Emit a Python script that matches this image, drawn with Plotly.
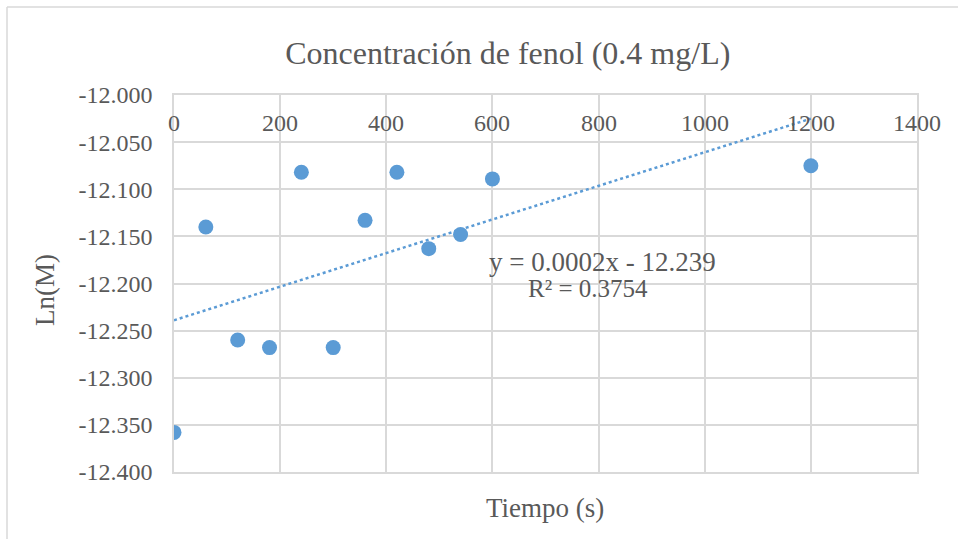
import numpy as np
import plotly.graph_objects as go

tiempo = [0, 60, 120, 180, 240, 300, 360, 420, 480, 540, 600, 1200]
ln_m = [-12.358, -12.140, -12.260, -12.268, -12.082, -12.268, -12.133,
        -12.082, -12.163, -12.148, -12.089, -12.075]
x_ticks = [0, 200, 400, 600, 800, 1000, 1200, 1400]
y_ticks = [-12.0, -12.05, -12.1, -12.15, -12.2, -12.25, -12.3, -12.35, -12.4]

title_text = "Concentración de fenol (0.4 mg/L)"
eq_line1 = "y = 0.0002x - 12.239"
eq_line2 = "R² = 0.3754"

slope, intercept = np.polyfit(tiempo, ln_m, 1)
tx = [min(tiempo), max(tiempo)]
ty = [slope * v + intercept for v in tx]

blue = "#5B9BD5"
grid = "#D9D9D9"
txt = "#595959"
font = "Liberation Serif"

fig = go.Figure()
fig.add_trace(go.Scatter(x=tx, y=ty, mode="lines",
                         line=dict(color=blue, width=2.5, dash="dot"),
                         showlegend=False, hoverinfo="skip"))
fig.add_trace(go.Scatter(x=tiempo, y=ln_m, mode="markers",
                         marker=dict(color=blue, size=15),
                         showlegend=False))

fig.update_layout(
    width=958, height=539,
    margin=dict(l=174, r=41, t=95, b=67),
    paper_bgcolor="white", plot_bgcolor="white",
    font=dict(family=font, color=txt, size=24),
    title=dict(text=title_text, x=0.53, xanchor="center", y=1 - 53 / 539, yanchor="middle",
               font=dict(size=32, color=txt, family=font)),
    xaxis=dict(range=[0, 1400], tickvals=x_ticks, showticklabels=False,
               showgrid=True, gridcolor=grid, gridwidth=1.5,
               zeroline=False, showline=True, linecolor=grid, linewidth=1.5,
               mirror=True, ticks=""),
    yaxis=dict(range=[-12.4, -12.0], tickvals=y_ticks,
               ticktext=[f"{v:.3f}" for v in y_ticks],
               showgrid=True, gridcolor=grid, gridwidth=1.5, zeroline=False,
               showline=True, linecolor=grid, linewidth=1.5, mirror=True,
               ticks="", ticklabelstandoff=15, tickfont=dict(size=24, color=txt, family=font)),
)

# x tick labels drawn just below the top axis (Excel style, axis crossing at -12.0)
for v in x_ticks:
    fig.add_annotation(text=str(v), x=v, xref="x", yref="paper", y=1 - 28 / 377,
                       xanchor="center", yanchor="middle", showarrow=False,
                       font=dict(size=24, color=txt, family=font))

fig.add_annotation(text="Tiempo (s)", xref="paper", yref="paper", x=(545 - 174) / 743,
                   y=1 - (508 - 95) / 377,
                   xanchor="center", yanchor="middle", showarrow=False,
                   font=dict(size=27, color=txt, family=font))
fig.add_annotation(text="Ln(M)", xref="paper", yref="paper", x=(45 - 174) / 743,
                   y=1 - (290 - 95) / 377,
                   xanchor="center", yanchor="middle", textangle=-90, showarrow=False,
                   font=dict(size=27, color=txt, family=font))
fig.add_annotation(text=eq_line1, xref="paper", yref="paper", x=(602 - 174) / 743,
                   y=1 - (262 - 95) / 377,
                   xanchor="center", yanchor="middle", showarrow=False,
                   font=dict(size=27, color=txt, family=font))
fig.add_annotation(text=eq_line2, xref="paper", yref="paper", x=(588 - 174) / 743,
                   y=1 - (288 - 95) / 377,
                   xanchor="center", yanchor="middle", showarrow=False,
                   font=dict(size=25, color=txt, family=font))

# chart frame (top and left edges visible)
fy = 1 + (95 - 7) / 377
fx = (7 - 174) / 743
fig.add_shape(type="line", xref="paper", yref="paper", x0=fx, x1=1.1, y0=fy, y1=fy,
              line=dict(color=grid, width=1.5))
fig.add_shape(type="line", xref="paper", yref="paper", x0=fx, x1=fx, y0=fy, y1=-0.3,
              line=dict(color=grid, width=1.5))

fig.write_html("out.html", config={"displayModeBar": False},
               post_script="document.body.style.margin='0';document.body.style.overflow='hidden';")
